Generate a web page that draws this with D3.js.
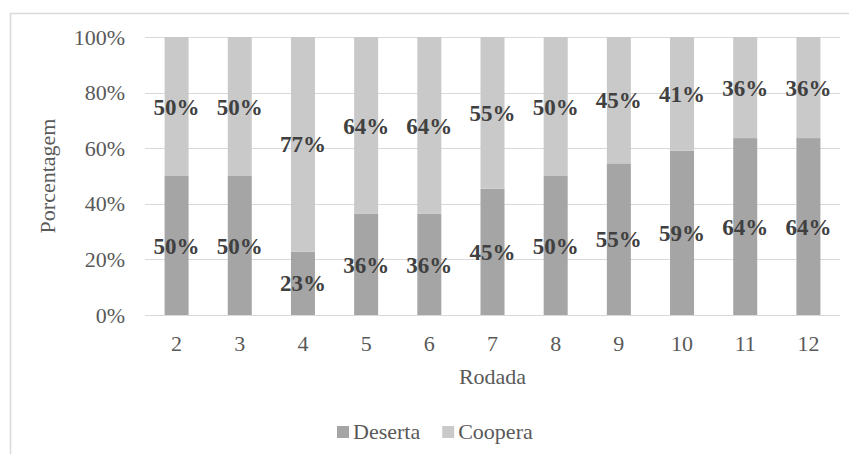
<!DOCTYPE html>
<html>
<head>
<meta charset="utf-8">
<script src="https://cdn.jsdelivr.net/npm/d3@7"></script>
<style>
  body { margin: 0; background: #fff; }
  svg { display: block; font-family: "Liberation Serif", "Times New Roman", serif; }
</style>
</head>
<body>
<div id="chart"></div>
<script>
const rounds = ["2", "3", "4", "5", "6", "7", "8", "9", "10", "11", "12"];
const deserta = [0.50, 0.50, 0.2273, 0.3636, 0.3636, 0.4545, 0.50, 0.5455, 0.5909, 0.6364, 0.6364];
const coopera = [0.50, 0.50, 0.7727, 0.6364, 0.6364, 0.5455, 0.50, 0.4545, 0.4091, 0.3636, 0.3636];
const yTicks = [0, 0.2, 0.4, 0.6, 0.8, 1.0];
const seriesNames = ["Deserta", "Coopera"];

const WIDTH = 849, HEIGHT = 454;
const COLORS = {Deserta: "#a5a5a5", Coopera: "#c9c9c9"};
const margin = {top: 37, right: 9, bottom: 139, left: 145};
const TEXT_COLOR = "#595959";
const FONT_SIZE = 22;

const svg = d3.select("#chart").append("svg")
    .attr("width", WIDTH)
    .attr("height", HEIGHT);

// chart frame
svg.append("rect")
    .attr("x", 10.5).attr("y", 13.5)
    .attr("width", 860).attr("height", 470)
    .attr("fill", "none")
    .attr("stroke", "#d9d9d9")
    .attr("stroke-width", 1.5);

const x = d3.scaleBand()
    .domain(rounds)
    .range([margin.left, WIDTH - margin.right])
    .paddingInner(0.62)
    .paddingOuter(0.31);

const y = d3.scaleLinear()
    .domain([0, 1])
    .range([HEIGHT - margin.bottom, margin.top]);

// gridlines
svg.append("g")
    .selectAll("line")
    .data(yTicks)
    .join("line")
    .attr("x1", margin.left)
    .attr("x2", WIDTH - margin.right)
    .attr("y1", d => Math.round(y(d)) + 0.5)
    .attr("y2", d => Math.round(y(d)) + 0.5)
    .attr("stroke", "#d9d9d9")
    .attr("stroke-width", 1.2);

const table = rounds.map((r, i) => ({round: r, Deserta: deserta[i], Coopera: coopera[i]}));
const stacked = d3.stack().keys(seriesNames)(table);

const layers = svg.append("g")
    .selectAll("g")
    .data(stacked)
    .join("g")
    .attr("fill", d => COLORS[d.key]);

layers.selectAll("rect")
    .data(d => d)
    .join("rect")
    .attr("x", d => x(d.data.round))
    .attr("width", x.bandwidth())
    .attr("y", d => y(d[1]))
    .attr("height", d => y(d[0]) - y(d[1]));

// value labels
const fmt = d3.format(".0%");
layers.selectAll("text")
    .data(d => d)
    .join("text")
    .attr("x", d => x(d.data.round) + x.bandwidth() / 2)
    .attr("y", d => (y(d[0]) + y(d[1])) / 2)
    .attr("dy", "0.35em")
    .attr("text-anchor", "middle")
    .attr("fill", "#404040")
    .attr("font-weight", "bold")
    .attr("font-size", 23)
    .text(d => fmt(d[1] - d[0]));

// y axis
const yAxis = svg.append("g")
    .attr("transform", `translate(${margin.left},0)`)
    .call(d3.axisLeft(y).tickValues(yTicks).tickFormat(d3.format(".0%")).tickSize(0).tickPadding(20));
yAxis.select(".domain").remove();
yAxis.selectAll("text")
    .attr("font-family", "Liberation Serif, serif")
    .attr("font-size", FONT_SIZE)
    .attr("fill", TEXT_COLOR);

// x axis
const xAxis = svg.append("g")
    .attr("transform", `translate(0,${HEIGHT - margin.bottom})`)
    .call(d3.axisBottom(x).tickSize(0).tickPadding(20));
xAxis.select(".domain").remove();
xAxis.selectAll("text")
    .attr("font-family", "Liberation Serif, serif")
    .attr("font-size", FONT_SIZE)
    .attr("fill", TEXT_COLOR);

// axis titles
svg.append("text")
    .attr("x", (margin.left + WIDTH - margin.right) / 2)
    .attr("y", 384)
    .attr("text-anchor", "middle")
    .attr("font-size", FONT_SIZE)
    .attr("fill", TEXT_COLOR)
    .text("Rodada");

svg.append("text")
    .attr("transform", `translate(55,${(y(0) + y(1)) / 2}) rotate(-90)`)
    .attr("text-anchor", "middle")
    .attr("font-size", FONT_SIZE)
    .attr("fill", TEXT_COLOR)
    .text("Porcentagem");

// legend
const legend = svg.append("g")
    .attr("transform", "translate(337,439)");
let lx = 0;
seriesNames.forEach(name => {
    const item = legend.append("g").attr("transform", `translate(${lx},0)`);
    item.append("rect")
        .attr("x", 0).attr("y", -13)
        .attr("width", 12).attr("height", 12)
        .attr("fill", COLORS[name]);
    const t = item.append("text")
        .attr("x", 16)
        .attr("font-size", FONT_SIZE)
        .attr("fill", TEXT_COLOR)
        .text(name);
    lx += 16 + t.node().getComputedTextLength() + 22;
});
</script>
</body>
</html>
